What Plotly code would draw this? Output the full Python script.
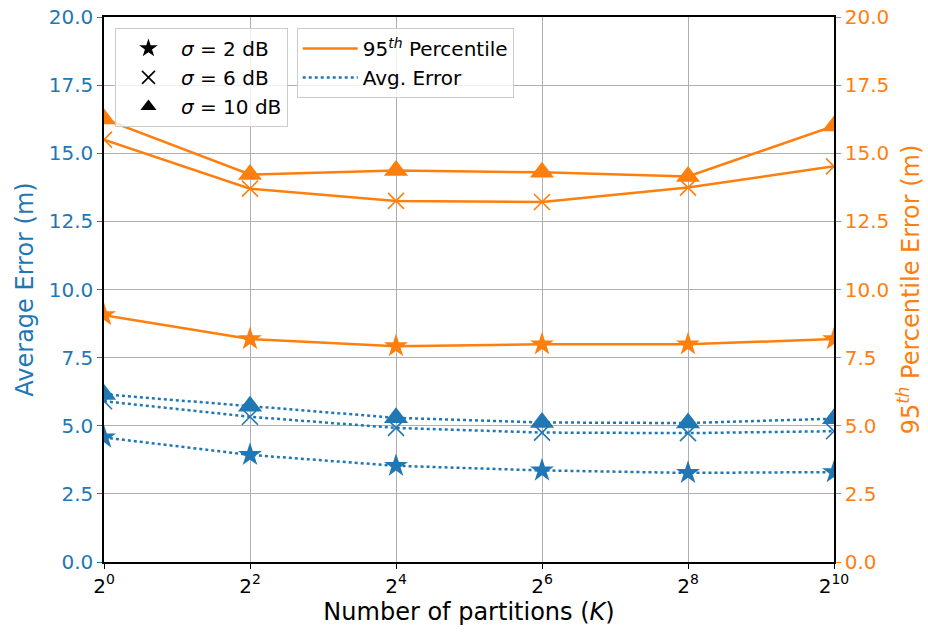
import plotly.graph_objects as go

K = [1, 4, 16, 64, 256, 1024]
tick_vals = [1, 4, 16, 64, 256, 1024]
tick_text = ["2<sup>0</sup>", "2<sup>2</sup>", "2<sup>4</sup>", "2<sup>6</sup>", "2<sup>8</sup>", "2<sup>10</sup>"]

sigmas = ["2", "6", "10"]
p95 = {
    "2": [9.06, 8.18, 7.92, 7.99, 7.99, 8.18],
    "6": [15.50, 13.70, 13.25, 13.21, 13.74, 14.52],
    "10": [16.26, 14.22, 14.37, 14.30, 14.15, 16.00],
}
avg = {
    "2": [4.57, 3.93, 3.53, 3.36, 3.27, 3.30],
    "6": [5.90, 5.33, 4.92, 4.75, 4.73, 4.80],
    "10": [6.15, 5.72, 5.29, 5.12, 5.10, 5.26],
}

BLUE = "#1f77b4"
ORANGE = "#ff7f0e"
FONT = "DejaVu Sans"

symbols = {"2": "star", "6": "x-thin-open", "10": "triangle-up"}
sizes = {"2": 18, "6": 16, "10": 21}

fig = go.Figure()

for s in sigmas:
    sym = symbols[s]
    fig.add_trace(go.Scatter(
        x=K, y=p95[s], mode="lines+markers", yaxis="y2",
        line=dict(color=ORANGE, width=2.5),
        marker=dict(symbol=sym, size=sizes[s], color=ORANGE,
                    line=dict(color=ORANGE, width=1.6 if s == "6" else 0)),
        showlegend=False))
    fig.add_trace(go.Scatter(
        x=K, y=avg[s], mode="lines+markers", yaxis="y",
        line=dict(color=BLUE, width=2.5, dash="dot"),
        marker=dict(symbol=sym, size=sizes[s], color=BLUE,
                    line=dict(color=BLUE, width=1.6 if s == "6" else 0)),
        showlegend=False))

# legend 1: marker shapes
for s in sigmas:
    sym = symbols[s]
    fig.add_trace(go.Scatter(
        x=[None], y=[None], mode="markers", name=f"<i>σ</i> = {s} dB",
        marker=dict(symbol=sym, size=14 if s != "6" else 13, color="black",
                    line=dict(color="black", width=1.6 if s == "6" else 0)),
        legend="legend"))
# legend 2: line styles
fig.add_trace(go.Scatter(x=[None], y=[None], mode="lines",
                         name="95<sup><i>th</i></sup> Percentile",
                         line=dict(color=ORANGE, width=2.5), legend="legend2"))
fig.add_trace(go.Scatter(x=[None], y=[None], mode="lines",
                         name="Avg. Error",
                         line=dict(color=BLUE, width=2.5, dash="dot"), legend="legend2"))

legend_style = dict(bgcolor="rgba(255,255,255,0.8)", bordercolor="#cccccc", borderwidth=1,
                    font=dict(family=FONT, size=20, color="black"),
                    xanchor="left", yanchor="top", tracegroupgap=0, itemwidth=55)

fig.update_layout(
    width=928, height=633,
    margin=dict(l=104, r=94, t=17, b=71, autoexpand=False),
    plot_bgcolor="white", paper_bgcolor="white",
    font=dict(family=FONT, size=20, color="black"),
    xaxis=dict(type="log", range=[0, 3.0103], tickvals=tick_vals, ticktext=tick_text,
               showgrid=True, gridcolor="#b0b0b0", gridwidth=1, automargin=False,
               showline=True, linecolor="black", linewidth=1.5, mirror=True,
               ticks="outside", ticklen=5, tickcolor="black",
               tickfont=dict(size=20, family=FONT),
               title=dict(text="Number of partitions (<i>K</i>)", font=dict(size=24, family=FONT), standoff=6),
               zeroline=False),
    yaxis=dict(range=[0, 20], dtick=2.5, tickformat=".1f", automargin=False,
               showgrid=True, gridcolor="#b0b0b0", gridwidth=1,
               showline=True, linecolor="black", linewidth=1.5,
               ticks="outside", ticklen=5, tickcolor=BLUE,
               tickfont=dict(size=20, color=BLUE, family=FONT),
               title=dict(text="Average Error (m)", font=dict(size=24, color=BLUE, family=FONT), standoff=8),
               zeroline=False),
    yaxis2=dict(range=[0, 20], dtick=2.5, tickformat=".1f", overlaying="y", side="right",
                automargin=False,
                showgrid=False, showline=True, linecolor="black", linewidth=1.5,
                ticks="outside", ticklen=5, tickcolor=ORANGE,
                tickfont=dict(size=20, color=ORANGE, family=FONT),
                title=dict(text="95<sup><i>th</i></sup> Percentile Error (m)",
                           font=dict(size=24, color=ORANGE, family=FONT), standoff=14),
                zeroline=False),
    legend=dict(x=0.015, y=0.98, **legend_style),
    legend2=dict(x=0.264, y=0.98, **legend_style),
)

fig.write_html("out.html")
